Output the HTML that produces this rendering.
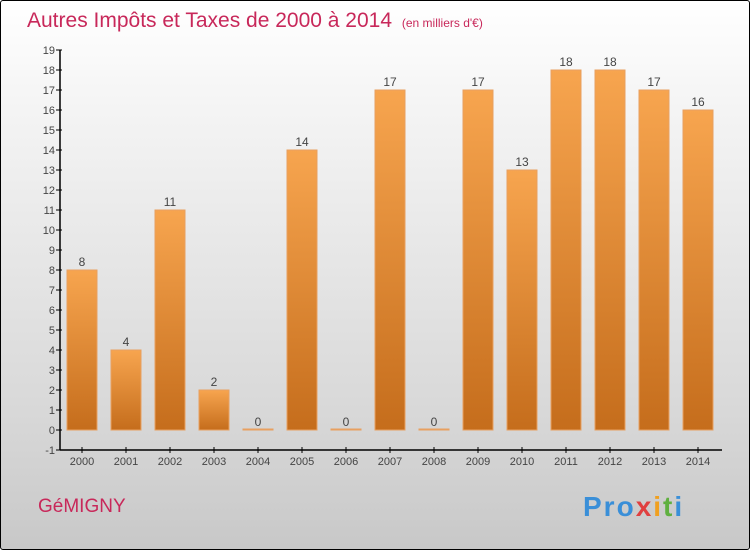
<!DOCTYPE html>
<html><head><meta charset="utf-8"><style>
body{margin:0;width:750px;height:550px;overflow:hidden;font-family:"Liberation Sans",sans-serif}
#c{position:absolute;left:0;top:0;width:748px;height:548px;border:1px solid #000;border-radius:3px;background:linear-gradient(#ffffff,#f4f4f4 20%,#d8d8d8 75%,#c8c8c8)}
</style></head><body>
<div id="c"></div>
<svg id="s" width="750" height="550" style="position:absolute;left:0;top:0">
<defs><linearGradient id="g" x1="0" y1="0" x2="0" y2="1"><stop offset="0" stop-color="#f7a54f"/><stop offset="1" stop-color="#c56d1c"/></linearGradient></defs>
<text x="27" y="27" font-size="21" fill="#c8285a">Autres Impôts et Taxes de 2000 à 2014 <tspan font-size="12" dx="4">(en milliers d'€)</tspan></text>
<text x="38" y="512" font-size="19" fill="#c8285a">GéMIGNY</text>
<text x="583" y="516" font-size="28" font-weight="bold" letter-spacing="2" fill="#3a8fd8">Pro<tspan fill="#e04040">x</tspan><tspan fill="#f0a020">i</tspan><tspan fill="#60b040">t</tspan><tspan fill="#3a8fd8">i</tspan></text>
<g id="ax"></g><g id="bars"></g>
</svg>
<script>
const years=["2000","2001","2002","2003","2004","2005","2006","2007","2008","2009","2010","2011","2012","2013","2014"];
const values=[8,4,11,2,0,14,0,17,0,17,13,18,18,17,16];
const yTicks=[-1,0,1,2,3,4,5,6,7,8,9,10,11,12,13,14,15,16,17,18,19];
const NS="http://www.w3.org/2000/svg";
function y(v){return 430-v*20;}
function x(i){return 82+i*44;}
function mk(t,a,p){const e=document.createElementNS(NS,t);for(const k in a)e.setAttribute(k,a[k]);p.appendChild(e);return e;}
const ax=document.getElementById('ax'),bg=document.getElementById('bars');
let l=mk('line',{x1:60,y1:y(19),x2:60,y2:y(-1),stroke:'#000','stroke-width':1.5},ax);


l=mk('line',{x1:60,y1:y(-1),x2:722,y2:y(-1),stroke:'#000','stroke-width':1.5},ax);


yTicks.forEach(v=>{
 mk('line',{x1:56,x2:62,y1:y(v),y2:y(v),stroke:'#000'},ax);
 const t=mk('text',{x:55,y:y(v)+4,'font-size':11,fill:'#444','text-anchor':'end'},ax);t.textContent=v;
 
 
});
years.forEach((yr,i)=>{
 mk('line',{x1:x(i),x2:x(i),y1:y(-1)-3,y2:y(-1)+3,stroke:'#000'},ax);
 const t=mk('text',{x:x(i),y:465,'font-size':11,fill:'#444','text-anchor':'middle'},ax);t.textContent=yr;
 
 
 const v=values[i];const h=Math.max(v*20,1);
 const r=mk('rect',{x:x(i)-15,y:y(0)-h,width:30,height:h,fill:'url(#g)',stroke:'#e8a060','stroke-width':1},bg);
 
 
 const lb=mk('text',{x:x(i),y:y(v)-4,'font-size':12,fill:'#444','text-anchor':'middle'},bg);lb.textContent=v;
 
 
});
</script>
</body></html>
